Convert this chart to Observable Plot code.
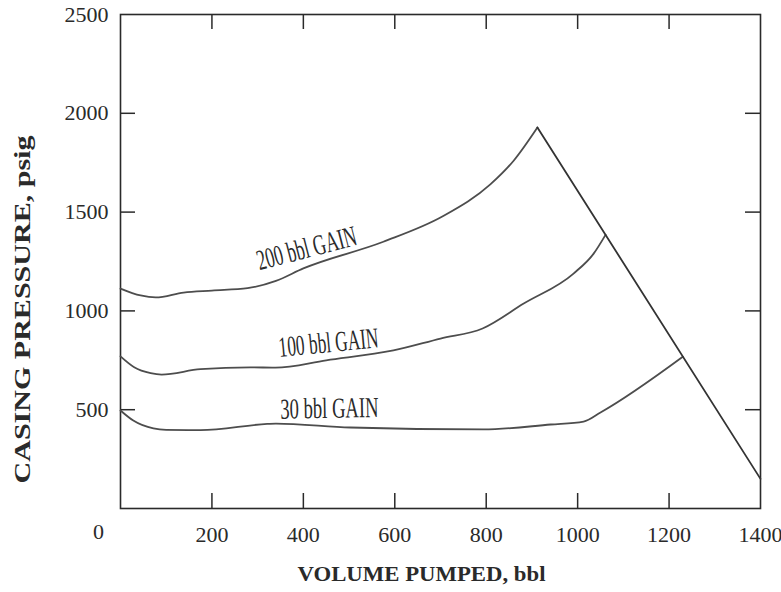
<!DOCTYPE html>
<html><head><meta charset="utf-8">
<script src="https://cdn.jsdelivr.net/npm/d3@7"></script>
<script src="https://cdn.jsdelivr.net/npm/@observablehq/plot@0.6"></script>
<style>body{margin:0;background:#fff}</style>
</head><body><div id="chart"></div>
<script>
// Volume pumped (bbl), casing pressure (psig)
const gain200 = [[0,1113],[44,1078],[77,1068],[138,1093],[200,1103],[278,1115],[340,1152],[400,1215],[575,1350],[706,1480],[809,1640],[860,1760],[912,1928]];
const gain100 = [[0,770],[30,715],[66,685],[90,678],[175,705],[284,714],[339,713],[450,750],[597,800],[700,860],[792,911],[882,1037],[991,1189],[1035,1290],[1061,1385]];
const gain30  = [[0,496],[28,445],[72,405],[100,398],[175,397],[321,428],[340,430],[503,410],[794,400],[941,425],[1013,440],[1050,486],[1230,768]];
const killLine = [[912,1928],[1400,150]];

const curveLabels = ["200 bbl GAIN","100 bbl GAIN","30 bbl GAIN"];
const labelVolume = [407,455,457];
const labelPressure = [1316,838,506];

const xTickLabels = [200,400,600,800,1000,1200,1400];
const xInnerTicks = [200,400,600,800,1000,1200];
const yTickLabels = [500,1000,1500,2000,2500];
const yInnerTicks = [500,1000,1500,2000];
const xTitle = "VOLUME PUMPED, bbl";
const yTitle = "CASING PRESSURE, psig";

const labelRows = curveLabels.map((t,i)=>({t, x:labelVolume[i], y:labelPressure[i]}));
const angles = [-14.5,-5.5,-1];

const fontFamily = '"Liberation Serif","Times New Roman",serif';
const ink = "#2a2a2a";
const curveInk = "#4d4d4d";
const W = 781, H = 592, mL = 120, mR = 21, mT = 14, mB = 84, tick = 15;
const innerW = W - mL - mR, innerH = H - mT - mB;

const chart = Plot.plot({
  width:W, height:H,
  marginLeft:mL, marginRight:mR, marginTop:mT, marginBottom:mB,
  style:{fontFamily, background:"#fff", color:ink},
  x:{domain:[0,1400]},
  y:{domain:[0,2500]},
  marks:[
    Plot.tickX(xInnerTicks, {x:d=>d, insetTop:innerH - tick, stroke:ink, strokeWidth:1.5}),
    Plot.tickX(xInnerTicks, {x:d=>d, insetBottom:innerH - tick, stroke:ink, strokeWidth:1.5}),
    Plot.tickY(yInnerTicks, {y:d=>d, insetRight:innerW - tick, stroke:ink, strokeWidth:1.5}),
    Plot.tickY(yInnerTicks, {y:d=>d, insetLeft:innerW - tick, stroke:ink, strokeWidth:1.5}),
    Plot.axisY(yTickLabels, {anchor:"left", tickSize:0, tickPadding:12, fontSize:22, tickFormat:d=>String(d), label:null}),
    Plot.axisX(xTickLabels, {anchor:"bottom", tickSize:0, tickPadding:18, fontSize:22, tickFormat:d=>String(d), label:null}),
    Plot.text(["0"], {x:0, y:0, dx:-22, dy:23, fontSize:22, fill:ink}),
    Plot.frame({stroke:ink, strokeWidth:1.6}),
    Plot.line(gain200, {x:d=>d[0], y:d=>d[1], curve:"monotone-x", stroke:curveInk, strokeWidth:1.8}),
    Plot.line(gain100, {x:d=>d[0], y:d=>d[1], curve:"monotone-x", stroke:curveInk, strokeWidth:1.8}),
    Plot.line(gain30, {x:d=>d[0], y:d=>d[1], curve:"monotone-x", stroke:curveInk, strokeWidth:1.8}),
    Plot.line(killLine, {x:d=>d[0], y:d=>d[1], stroke:"#333", strokeWidth:1.8}),
    ...labelRows.map((r,i)=>Plot.text([r], {x:"x", y:"y", text:"t", rotate:angles[i], fontSize:29, fill:ink})),
    Plot.text([xTitle], {frameAnchor:"bottom", textAnchor:"start", dx:-143, dy:72, fontSize:22, fontWeight:"bold", fill:ink}),
    Plot.text([yTitle], {frameAnchor:"left", textAnchor:"start", dx:-98, dy:222, rotate:-90, fontSize:23, fontWeight:"bold", fill:ink})
  ]
});
document.getElementById("chart").appendChild(chart);
const fit = {"200 bbl GAIN":102, "100 bbl GAIN":100, "30 bbl GAIN":98};
fit[xTitle] = 248; fit[yTitle] = 348;
chart.querySelectorAll("text").forEach(t=>{
  const s = t.textContent;
  if (fit[s]) { t.setAttribute("textLength", fit[s]); t.setAttribute("lengthAdjust","spacingAndGlyphs"); }
});
</script>
</body></html>
